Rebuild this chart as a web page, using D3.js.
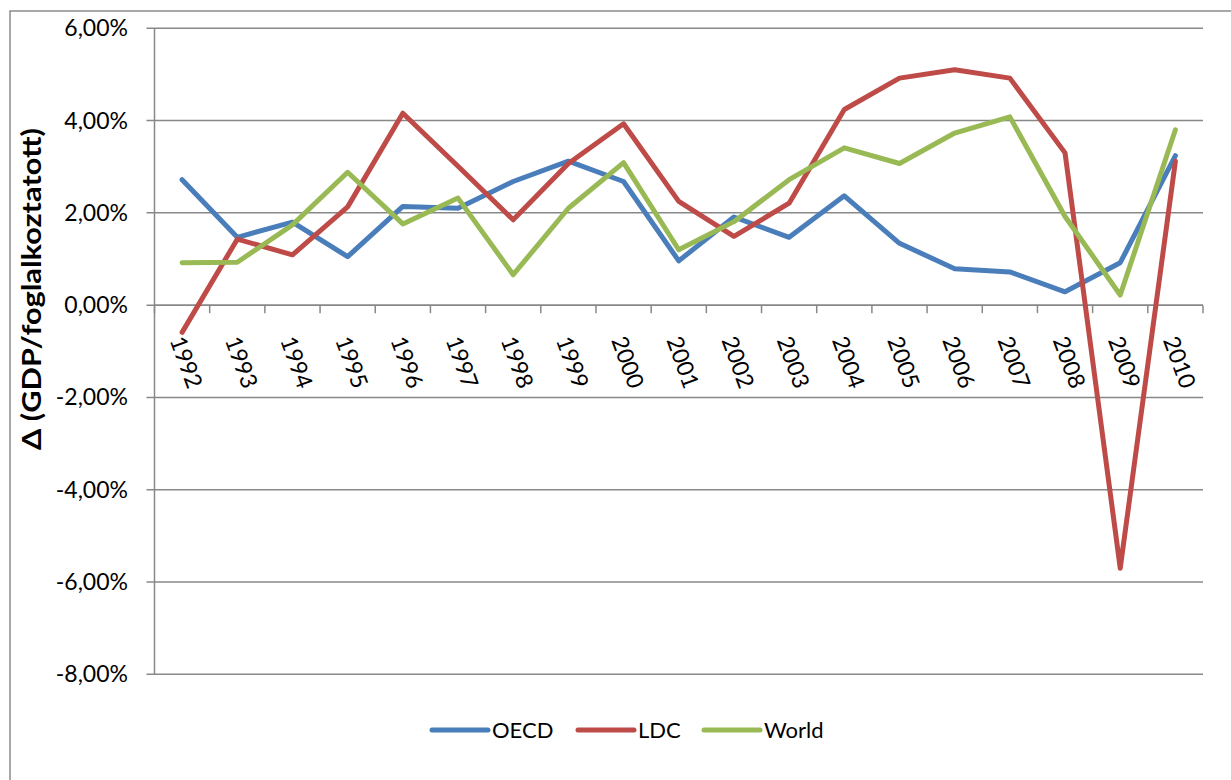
<!DOCTYPE html>
<html><head><meta charset="utf-8">
<script src="https://cdn.jsdelivr.net/npm/d3@7"></script>
<style>body{margin:0;background:#fff}svg{display:block}</style>
</head><body>
<script>
const years = ["1992","1993","1994","1995","1996","1997","1998","1999","2000","2001","2002","2003","2004","2005","2006","2007","2008","2009","2010"];
const oecd  = [2.72,1.47,1.80,1.05,2.14,2.10,2.68,3.12,2.68,0.96,1.91,1.47,2.37,1.34,0.79,0.72,0.29,0.92,3.24];
const ldc   = [-0.59,1.43,1.09,2.13,4.16,3.01,1.85,3.07,3.93,2.25,1.49,2.21,4.24,4.92,5.10,4.92,3.30,-5.70,3.12];
const world = [0.92,0.93,1.74,2.88,1.76,2.32,0.66,2.10,3.09,1.20,1.81,2.72,3.41,3.07,3.73,4.08,1.92,0.22,3.80];
const yTicks = [6,4,2,0,-2,-4,-6,-8];
const seriesNames = ["OECD","LDC","World"];
const seriesColors = ["#4a7ebb","#be4b48","#98b954"];
const series = [oecd, ldc, world];

const W = 1231, H = 780;
const font = "Lato, 'Open Sans', sans-serif";
const svg = d3.select("body").append("svg").attr("width", W).attr("height", H);

// outer frame
svg.append("rect").attr("x",10).attr("y",11).attr("width",1300).attr("height",900)
  .attr("fill","none").attr("stroke","#8c8c8c").attr("stroke-width",1.5);

const pL = 154.5, pR = 1203, pT = 28.3, pB = 674.3;
const x = d3.scaleBand().domain(years).range([pL, pR]);
const y = d3.scaleLinear().domain([-8, 6]).range([pB, pT]);
const gridColor = "#888";

// gridlines
svg.append("g").selectAll("line").data(yTicks).join("line")
  .attr("x1", pL - 8).attr("x2", pR)
  .attr("y1", d => y(d)).attr("y2", d => y(d))
  .attr("stroke", gridColor).attr("stroke-width", 1.5);

// y axis line
svg.append("line").attr("x1", pL).attr("x2", pL).attr("y1", pT).attr("y2", pB)
  .attr("stroke", gridColor).attr("stroke-width", 1.5);

// y labels
svg.append("g").selectAll("text").data(yTicks).join("text")
  .attr("x", 128).attr("y", d => y(d)).attr("dy", "0.35em")
  .attr("text-anchor", "end").attr("font-family", font).attr("font-size", 23)
  .attr("fill", "#000")
  .text(d => d3.format(".2f")(d).replace(".", ",").replace("\u2212", "-") + "%");

// x axis at zero with ticks
const xg = svg.append("g").attr("transform", `translate(0,${y(0)})`);
xg.append("line").attr("x1", pL).attr("x2", pR).attr("stroke", gridColor).attr("stroke-width", 1.5);
const tickPos = years.map(d => x(d)).concat([pR]);
xg.selectAll("line.tk").data(tickPos).join("line").attr("class","tk")
  .attr("x1", d => d).attr("x2", d => d).attr("y1", 0).attr("y2", 8)
  .attr("stroke", gridColor).attr("stroke-width", 1.5);

// x labels rotated
svg.append("g").selectAll("text").data(years).join("text")
  .attr("transform", d => `translate(${x(d) + x.bandwidth()/2 - 5},${y(0) + 32}) rotate(70)`)
  .attr("font-family", font).attr("font-size", 23).attr("fill", "#000")
  .attr("text-anchor", "start").attr("dy", "0.35em")
  .text(d => d);

// lines
const line = d3.line().x((d, i) => x(years[i]) + x.bandwidth()/2).y(d => y(d));
series.forEach((s, k) => {
  svg.append("path").datum(s).attr("d", line)
    .attr("fill", "none").attr("stroke", seriesColors[k]).attr("stroke-width", 5)
    .attr("stroke-linejoin", "round").attr("stroke-linecap", "round");
});

// y title
svg.append("text").attr("transform", `translate(41,289) rotate(-90)`)
  .attr("text-anchor", "middle").attr("font-family", font).attr("font-size", 26)
  .attr("font-weight", "bold").attr("fill", "#000")
  .attr("textLength", 322).attr("lengthAdjust", "spacingAndGlyphs")
  .text("Δ (GDP/foglalkoztatott)");

// legend
const legX = [432, 578, 704];
const lg = svg.append("g");
seriesNames.forEach((n, k) => {
  lg.append("line").attr("x1", legX[k]).attr("x2", legX[k] + 56).attr("y1", 730).attr("y2", 730)
    .attr("stroke", seriesColors[k]).attr("stroke-width", 5).attr("stroke-linecap", "round");
  lg.append("text").attr("x", legX[k] + 60).attr("y", 730).attr("dy", "0.35em")
    .attr("font-family", font).attr("font-size", 22).attr("fill", "#000").text(n);
});
</script>
</body></html>
